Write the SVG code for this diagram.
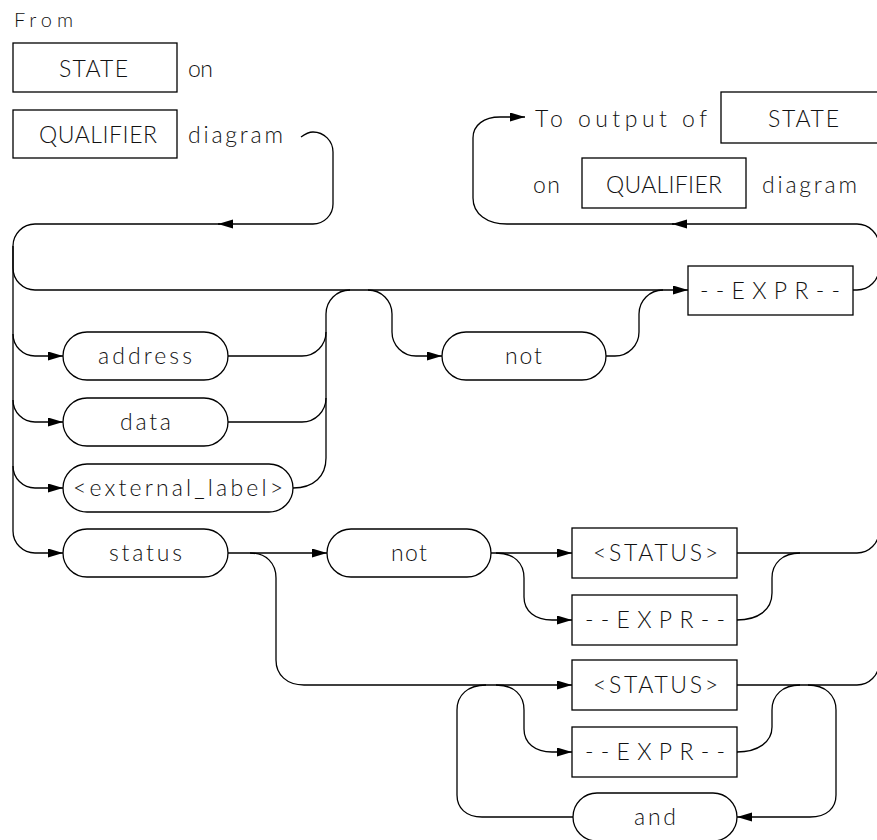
<svg xmlns="http://www.w3.org/2000/svg" width="877" height="840" viewBox="0 0 877 840">
<style>
.ln{fill:none;stroke:#000;stroke-width:1.3}
.bx{fill:#fff;stroke:#000;stroke-width:1.3}
.t{font-family:Lato,"Liberation Sans",sans-serif;font-weight:300;font-size:23px;fill:#111}
</style>
<defs>
<marker id="a" markerUnits="userSpaceOnUse" markerWidth="16" markerHeight="10" refX="15" refY="4.5" orient="auto"><path d="M0,0 L15,4.5 L0,9 z" fill="#000"/></marker>
</defs>
<rect width="877" height="840" fill="#fff"/>
<g id="connectors" class="ln">
<path d="M301,137 C305,134 309,132 313,132 A20,20 0 0 1 333,152 L333,204 A20,20 0 0 1 313,224 L218,224" marker-end="url(#a)"/>
<path d="M220,224 L35,224 A22,22 0 0 0 13,246 L13,531 A22,22 0 0 0 35,553 L63,553" marker-end="url(#a)"/>
<path d="M13,246 L13,268 A22,22 0 0 0 35,290 L688,290" marker-end="url(#a)"/>
<path d="M13,334 A22,22 0 0 0 35,356 L63,356" marker-end="url(#a)"/>
<path d="M13,400 A22,22 0 0 0 35,422 L63,422" marker-end="url(#a)"/>
<path d="M13,466 A22,22 0 0 0 35,488 L63,488" marker-end="url(#a)"/>
<path d="M228,356 L302,356 A24,24 0 0 0 326,332"/>
<path d="M228,422 L302,422 A24,24 0 0 0 326,398"/>
<path d="M293,488 C314,488 326,476 326,458 L326,314 A24,24 0 0 1 350,290"/>
<path d="M368,290 A24,24 0 0 1 392,314 L392,332 A24,24 0 0 0 416,356 L442,356" marker-end="url(#a)"/>
<path d="M606,356 L615,356 A24,24 0 0 0 639,332 L639,314 A24,24 0 0 1 663,290"/>
<path d="M853,290 L857,290 A22,22 0 0 0 879,268 L879,246 A22,22 0 0 0 857,224 L672,224" marker-end="url(#a)"/>
<path d="M674,224 L507,224 C487,224 473,214 473,198 L473,138 C473,125 484,117 500,117 L525,117" marker-end="url(#a)"/>
<path d="M879,268 L879,663"/>
<path d="M228,553 L327,553" marker-end="url(#a)"/>
<path d="M250,553 C266,553 276,563 276,578 L276,660 C276,675 287,685 304,685 L572,685" marker-end="url(#a)"/>
<path d="M491,553 L572,553" marker-end="url(#a)"/>
<path d="M496,553 C514,553 524,563 524,578 L524,597 C524,611 535,620 552,620 L572,620" marker-end="url(#a)"/>
<path d="M737,553 L857,553 A22,22 0 0 0 879,531"/>
<path d="M737,620 C758,620 772,610 772,593 L772,578 C772,563 783,553 800,553"/>
<path d="M737,685 L857,685 A22,22 0 0 0 879,663"/>
<path d="M496,685 C514,685 524,695 524,710 L524,729 C524,743 535,752 552,752 L572,752" marker-end="url(#a)"/>
<path d="M573,817 L482,817 C466,817 457,808 457,795 L457,710 C457,695 468,685 486,685"/>
<path d="M737,752 C758,752 772,742 772,727 L772,710 C772,695 783,685 800,685"/>
<path d="M808,685 C825,685 836,695 836,710 L836,795 C836,808 827,817 810,817 L737,817" marker-end="url(#a)"/>
</g>
<g id="from-label"><text class="t" x="14" y="27" style="font-size:20px" textLength="59">From</text></g>
<g id="state-in"><rect class="bx" x="13" y="43" width="164" height="49"/><text class="t" x="59" y="77" textLength="69">STATE</text><text class="t" x="188" y="77" textLength="25">on</text></g>
<g id="qualifier-in"><rect class="bx" x="13" y="110" width="164" height="48"/><text class="t" x="39" y="143" textLength="118">QUALIFIER</text><text class="t" x="188" y="143" textLength="95">diagram</text></g>
<g id="to-output"><text class="t" x="535" y="127" textLength="172">To output of</text><rect class="bx" x="721" y="92" width="170" height="51"/><text class="t" x="768" y="127" textLength="71">STATE</text></g>
<g id="qualifier-out"><text class="t" x="533" y="193" textLength="27">on</text><rect class="bx" x="582" y="158" width="164" height="50"/><text class="t" x="606" y="193" textLength="116">QUALIFIER</text><text class="t" x="762" y="193" textLength="95">diagram</text></g>
<g id="expr-main"><rect class="bx" x="688" y="266" width="165" height="49"/><text class="t" x="700" y="299" textLength="140">--EXPR--</text></g>
<g id="address"><rect class="bx" x="63" y="332" width="165" height="48" rx="24"/><text class="t" x="98" y="364" textLength="94">address</text></g>
<g id="data"><rect class="bx" x="63" y="398" width="165" height="48" rx="24"/><text class="t" x="120" y="430" textLength="51">data</text></g>
<g id="external-label"><rect class="bx" x="63" y="464" width="230" height="48" rx="24"/><text class="t" x="73" y="496" textLength="210">&lt;external_label&gt;</text></g>
<g id="status"><rect class="bx" x="63" y="529" width="165" height="48" rx="24"/><text class="t" x="109" y="561" textLength="73">status</text></g>
<g id="not-1"><rect class="bx" x="442" y="332" width="164" height="48" rx="24"/><text class="t" x="505" y="364" textLength="37">not</text></g>
<g id="not-2"><rect class="bx" x="327" y="529" width="164" height="48" rx="24"/><text class="t" x="391" y="561" textLength="36">not</text></g>
<g id="status-box-1"><rect class="bx" x="572" y="528" width="165" height="50"/><text class="t" x="593" y="561" textLength="125">&lt;STATUS&gt;</text></g>
<g id="expr-1"><rect class="bx" x="572" y="595" width="165" height="50"/><text class="t" x="585" y="628" textLength="140">--EXPR--</text></g>
<g id="status-box-2"><rect class="bx" x="572" y="660" width="165" height="50"/><text class="t" x="593" y="693" textLength="125">&lt;STATUS&gt;</text></g>
<g id="expr-2"><rect class="bx" x="572" y="727" width="165" height="50"/><text class="t" x="585" y="760" textLength="140">--EXPR--</text></g>
<g id="and"><rect class="bx" x="573" y="793" width="164" height="48" rx="24"/><text class="t" x="634" y="825" textLength="42">and</text></g>
</svg>
